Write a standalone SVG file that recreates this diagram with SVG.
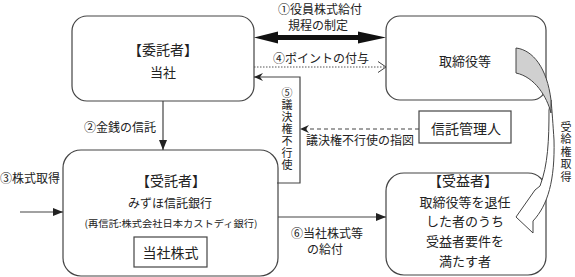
<svg xmlns="http://www.w3.org/2000/svg" width="575" height="277" viewBox="0 0 575 277">
<defs>
<style>
text{font-family:"Noto Sans CJK JP","Noto Sans",sans-serif;fill:#222;dominant-baseline:central;text-anchor:middle}
.vt{writing-mode:vertical-rl;text-anchor:start;font-size:11px}
.box{fill:#fff;stroke:#444;stroke-width:1.2}
.ln{fill:none;stroke:#444;stroke-width:1.2}
.s12{font-size:12px}.s13{font-size:13px}.s14{font-size:14px}
</style>
<marker id="tri" viewBox="0 0 10 8" refX="10" refY="4" markerWidth="10" markerHeight="8" markerUnits="userSpaceOnUse" orient="auto"><path d="M0,0 L10,4 L0,8 Z" fill="#222"/></marker>
<marker id="stl" viewBox="0 0 9 8" refX="9" refY="4" markerWidth="9" markerHeight="8" markerUnits="userSpaceOnUse" orient="auto"><path d="M0,0 L9,4 L0,8 L3,4 Z" fill="#222"/></marker>
<marker id="chev" viewBox="0 0 10 12" refX="9" refY="6" markerWidth="10" markerHeight="12" markerUnits="userSpaceOnUse" orient="auto"><path d="M1,0.5 L9,6 L1,11.5" fill="none" stroke="#444" stroke-width="1"/></marker>
</defs>
<rect width="575" height="277" fill="#fff"/>

<g id="itakusha">
<rect class="box" x="72" y="16" width="182" height="85" rx="15"/>
<text class="s14" x="163" y="49">【委託者】</text>
<text class="s13" x="163" y="71">当社</text>
</g>

<g id="torishimariyaku">
<rect class="box" x="386" y="16" width="160" height="84" rx="14"/>
<text class="s13" x="465" y="60">取締役等</text>
</g>

<g id="shintakukanrinin">
<rect class="box" x="419" y="111" width="92" height="32"/>
<text class="s14" x="466" y="128">信託管理人</text>
</g>

<g id="jutakusha">
<rect class="box" x="63" y="150" width="215" height="126" rx="18"/>
<text class="s14" x="171" y="180">【受託者】</text>
<text class="s12" x="170" y="202">みずほ信託銀行</text>
<text x="171" y="223" style="font-size:9.5px" textLength="173" lengthAdjust="spacingAndGlyphs">(再信託:株式会社日本カストディ銀行)</text>
<rect class="box" x="134" y="237" width="73" height="30"/>
<text class="s14" x="170.5" y="252">当社株式</text>
</g>

<g id="jueki">
<rect class="box" x="386" y="173" width="160" height="102" rx="18"/>
<text class="s14" x="463" y="180">【受益者】</text>
<text class="s13" x="465" y="201">取締役等を退任</text>
<text class="s13" x="465" y="220">した者のうち</text>
<text class="s13" x="465" y="240">受益者要件を</text>
<text class="s13" x="465" y="260">満たす者</text>
</g>

<g id="connectors">
<path d="M254,37.5 L278,31.5 L278,35 L358,35 L358,31.5 L386,37.5 L358,43.5 L358,40 L278,40 L278,43.5 Z" fill="#111"/>
<text class="s12" x="320" y="8">①役員株式給付</text>
<text class="s12" x="318" y="24">規程の制定</text>

<line x1="254" y1="67" x2="386" y2="67" stroke="#555" stroke-width="1" stroke-dasharray="1.5 1.5" marker-end="url(#chev)"/>
<text class="s12" x="321" y="57">④ポイントの付与</text>

<polyline class="ln" points="277,183 300,183 300,77 254,77" marker-end="url(#stl)"/>
<text class="vt" x="287" y="87" letter-spacing="1">⑤議決権不行使</text>

<line x1="419" y1="129" x2="300" y2="129" class="ln" stroke-dasharray="4 3" marker-end="url(#stl)"/>
<text class="s12" x="360" y="139">議決権不行使の指図</text>

<line x1="163" y1="101" x2="163" y2="150" class="ln" marker-end="url(#tri)"/>
<text class="s12" x="120" y="126">②金銭の信託</text>

<line x1="20" y1="212" x2="63" y2="212" class="ln" marker-end="url(#tri)"/>
<text class="s12" x="30" y="177">③株式取得</text>

<line x1="278" y1="217" x2="386" y2="217" class="ln" marker-end="url(#tri)"/>
<text class="s12" x="327" y="232">⑥当社株式等</text>
<text class="s12" x="325" y="248">の給付</text>

<path d="M549,110 C549,140 548,165 540,186 L535,190 L516,217 L533,233 L533,221 C548,205 555,180 554,140 C553,125 552,110 551,100 Z" fill="#fff" stroke="#444" stroke-width="1"/>
<path d="M516,48 C533,50 547,68 551,100 L551,113 C547,97 535,77 516,73 Z" fill="#d0d0d0" stroke="#444" stroke-width="1"/>
<text class="vt" x="566" y="121" letter-spacing="1.5">受給権取得</text>
</g>
</svg>
